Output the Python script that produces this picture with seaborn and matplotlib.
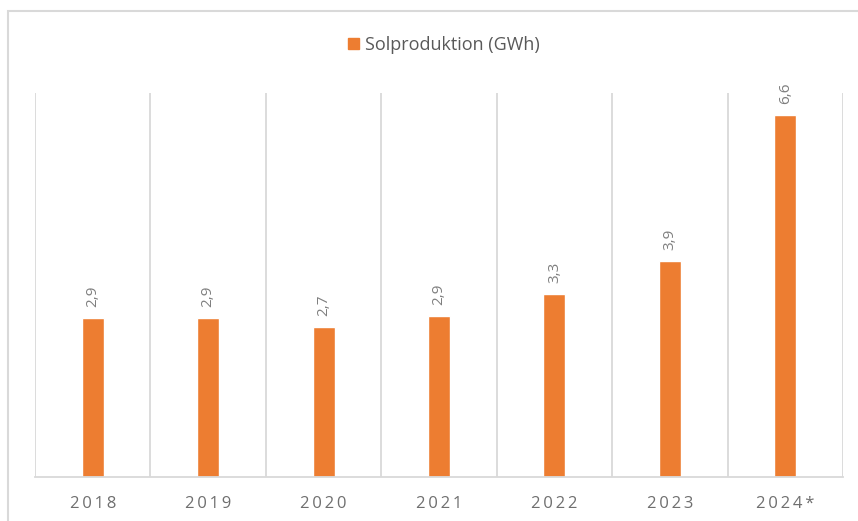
import pandas as pd
import numpy as np
import seaborn as sns
import matplotlib.pyplot as plt
from matplotlib.patches import Rectangle, Patch

years = ["2018", "2019", "2020", "2021", "2022", "2023", "2024*"]
solar_gwh = [2.89, 2.89, 2.74, 2.93, 3.33, 3.93, 6.6]
series_name = "Solproduktion (GWh)"

df = pd.DataFrame({"year": years, "value": solar_gwh})

sns.set_theme(style="white")
plt.rcParams['font.family'] = ['Open Sans', 'DejaVu Sans']

orange = "#ed7d31"
grey_txt = "#595959"
grid_col = "#d9d9d9"

fig = plt.figure(figsize=(8.58, 5.21), dpi=100)
ax = fig.add_axes([35 / 858, 1 - 477 / 521, (843 - 35) / 858, (477 - 93) / 521])

sns.barplot(data=df, x="year", y="value", color=orange, saturation=1,
            width=0.19, ax=ax)

ax.set_ylim(0, 7)
ax.set_xlim(-0.5, len(years) - 0.5)

# vertical separators between categories
for i in range(len(years) + 1):
    ax.axvline(i - 0.5, color=grid_col, lw=1.3, zorder=0)

# value labels, rotated
for i, v in enumerate(solar_gwh):
    ax.text(i, v + 0.2, f"{v:.1f}".replace(".", ","), rotation=90,
            ha="center", va="bottom", color="#7f7f7f", fontsize=11)

for s in ["top", "right", "left"]:
    ax.spines[s].set_visible(False)
ax.spines["bottom"].set_color(grid_col)
ax.spines["bottom"].set_linewidth(1.3)
ax.set_yticks([])
ax.set_xlabel("")
ax.set_ylabel("")
# excel-style letter spacing on the year labels
ax.set_xticks(range(len(years)))
ax.set_xticklabels(["\u2009".join(y) for y in years])
ax.tick_params(axis="x", length=0, pad=14, labelsize=12, labelcolor="#6f6f6f")

leg = fig.legend(handles=[Patch(color=orange, label=series_name)],
                 loc="center", bbox_to_anchor=(444 / 858, 1 - 45 / 521),
                 frameon=False, fontsize=13, handlelength=0.6,
                 handleheight=0.6, handletextpad=0.35)
for t in leg.get_texts():
    t.set_color(grey_txt)

# chart outer border
fig.patches.append(Rectangle((8 / 858, -0.1), 1.2, 1 - 11 / 521 + 0.1,
                             transform=fig.transFigure, fill=False,
                             edgecolor="#d9d9d9", lw=1.5, clip_on=False))

fig.savefig("out.png", dpi=100)
